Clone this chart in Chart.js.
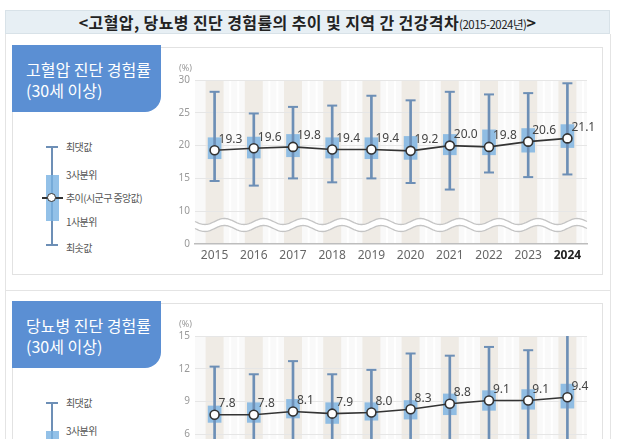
<!DOCTYPE html>
<html>
<head>
<meta charset="utf-8">
<script src="https://cdn.jsdelivr.net/npm/chart.js@4.4.0/dist/chart.umd.min.js"></script>
<style>
  body { margin: 0; width: 628px; height: 439px; overflow: hidden; background: #fff;
         font-family: "Noto Sans CJK KR", "Noto Sans", sans-serif; position: relative; }
  .abs { position: absolute; }
  #title { left: 5px; top: 10px; width: 605px; height: 24px; background: #e7eff4; border: 1px solid #d8e2e8;
           box-sizing: border-box; text-align: center; font-size: 16px; font-weight: bold; color: #222; line-height: 22px;
           letter-spacing: 0.4px; }
  #title small { font-size: 11.5px; font-weight: normal; letter-spacing: -0.5px; }
  .frame { border: 1.5px solid #e2e2e2; box-sizing: border-box; }
  .tag { background: #5b8fd3; color: #fff; font-size: 16px; line-height: 21px; padding: 14px 0 0 14px;
         box-sizing: border-box; border-bottom-right-radius: 16px; }
  .lg { font-size: 10px; color: #555; line-height: 12px; letter-spacing: -0.6px; }
</style>
</head>
<body>
<div id="title" class="abs">&lt;고혈압, 당뇨병 진단 경험률의 추이 및 지역 간 건강격차<small>(2015-2024년)</small>&gt;</div>
<div class="abs" style="left:5px;top:34px;width:1px;height:420px;background:#e4e4e4"></div>
<div class="abs" style="left:610px;top:34px;width:1px;height:420px;background:#e4e4e4"></div>
<div class="abs" style="left:5px;top:290px;width:605px;height:1px;background:#e4e4e4"></div>
<div id="panels"></div>

<script>
// categories
const years = ['2015', '2016', '2017', '2018', '2019', '2020', '2021', '2022', '2023', '2024'];

// 고혈압 (hypertension)
const bpMax = [28.2, 24.9, 25.9, 26.1, 27.6, 26.9, 28.2, 27.8, 28.0, 29.5];
const bpQ3 = [21.2, 21.3, 21.7, 21.2, 21.2, 21.4, 21.7, 22.4, 22.6, 23.2];
const bpMedian = [19.3, 19.6, 19.8, 19.4, 19.4, 19.2, 20.0, 19.8, 20.6, 21.1];
const bpQ1 = [18.0, 18.1, 18.3, 18.1, 18.0, 17.9, 18.6, 18.6, 19.0, 19.7];
const bpMin = [14.6, 13.9, 15.0, 14.4, 15.0, 14.3, 13.3, 15.9, 15.2, 15.6];

// 당뇨병 (diabetes)
const dmMax = [12.2, 11.5, 12.7, 11.5, 11.9, 13.4, 13.2, 14.0, 13.7, 15.1];
const dmQ3 = [8.6, 8.9, 9.2, 8.9, 8.9, 9.1, 9.7, 10.0, 10.1, 10.6];
const dmMedian = [7.8, 7.8, 8.1, 7.9, 8.0, 8.3, 8.8, 9.1, 9.1, 9.4];
const dmQ1 = [7.1, 7.1, 7.5, 7.0, 7.3, 7.4, 7.8, 8.2, 8.3, 8.4];
const dmMin = [4.9, 4.6, 5.0, 4.8, 5.1, 4.7, 4.4, 5.2, 5.0, 4.9];

// y axis: [bottom, top, step]; bottom tick is shown as 0 (broken axis)
const bpAxis = [5, 30, 5];
const dmAxis = [0, 15, 3];

const boxColor = 'rgba(120,178,226,0.8)';
const whiskerColor = '#6d8fb6';
const lineColor = '#333';

// striped background + axis break
const stripes = {
    id: 'stripes',
    beforeDraw(chart) {
        const a = chart.chartArea;
        const c = chart.ctx;
        const x = chart.scales.x;
        c.save();
        c.fillStyle = '#f9f9f9';
        c.fillRect(a.left, a.top, a.right - a.left, a.bottom - a.top);
        const step = x.getPixelForValue(1) - x.getPixelForValue(0);
        for (let i = 0; i < chart.data.labels.length; i++) {
            const px = x.getPixelForValue(i);
            c.fillStyle = '#efebe5';
            c.fillRect(px - 9, a.top, 18, a.bottom - a.top);
            c.fillStyle = '#ffffff';
            c.fillRect(px + step / 2 - 5, a.top, 2, a.bottom - a.top);
            c.fillRect(px + step / 2 + 3, a.top, 2, a.bottom - a.top);
        }
        c.restore();
    },
    beforeDatasetsDraw(chart) {
        const a = chart.chartArea;
        const c = chart.ctx;
        const x = chart.scales.x;
        const period = x.getPixelForValue(1) - x.getPixelForValue(0);
        const mid = a.bottom - 19;
        const wave = (off) => {
            const pts = [];
            for (let px = a.left; px <= a.right; px += 1) {
                pts.push([px, mid + off + 3 * Math.sin((px - a.left) / period * 2 * Math.PI)]);
            }
            return pts;
        };
        const w1 = wave(-3.5), w2 = wave(3.5);
        c.save();
        c.beginPath();
        w1.forEach((p, i) => i ? c.lineTo(p[0], p[1]) : c.moveTo(p[0], p[1]));
        for (let i = w2.length - 1; i >= 0; i--) c.lineTo(w2[i][0], w2[i][1]);
        c.closePath();
        c.fillStyle = '#fff';
        c.fill();
        c.strokeStyle = '#c4c4c4';
        c.lineWidth = 1.3;
        [w1, w2].forEach(w => {
            c.beginPath();
            w.forEach((p, i) => i ? c.lineTo(p[0], p[1]) : c.moveTo(p[0], p[1]));
            c.stroke();
        });
        c.restore();
    },
    afterDatasetsDraw(chart) {
        const c = chart.ctx;
        const meta = chart.getDatasetMeta(0);
        const vals = chart.data.datasets[0].data;
        c.save();
        c.font = '12px "Noto Sans", "Noto Sans CJK KR", sans-serif';
        c.fillStyle = '#444';
        c.textAlign = 'left';
        c.textBaseline = 'middle';
        meta.data.forEach((pt, i) => {
            c.fillText(vals[i].toFixed(1), pt.x + 4, pt.y - 11);
        });
        c.font = '9px "Noto Sans", sans-serif';
        c.fillStyle = '#999';
        c.textAlign = 'right';
        c.fillText('(%)', chart.chartArea.left - 3, chart.chartArea.top - 12);
        c.restore();
    }
};

function makePanel(top, name, med, q1, q3, mn, mx, axis) {
    const host = document.getElementById('panels');
    host.insertAdjacentHTML('beforeend', `
      <div class="abs frame" style="left:12px;top:${top + 2}px;width:591px;height:228px"></div>
      <div class="abs tag" style="left:12px;top:${top}px;width:149px;height:67px">${name}<br>(30세 이상)</div>
      <div class="abs" style="left:51px;top:${top + 102}px;width:2px;height:98px;background:${whiskerColor}"></div>
      <div class="abs" style="left:46px;top:${top + 101}px;width:12px;height:2px;background:${whiskerColor}"></div>
      <div class="abs" style="left:46px;top:${top + 199}px;width:12px;height:2px;background:${whiskerColor}"></div>
      <div class="abs" style="left:46px;top:${top + 130}px;width:13px;height:46px;background:${boxColor}"></div>
      <div class="abs" style="left:42px;top:${top + 152}px;width:21px;height:2px;background:${lineColor}"></div>
      <div class="abs" style="left:47px;top:${top + 148}px;width:7px;height:7px;border:1.5px solid ${lineColor};border-radius:50%;background:#fff"></div>
      <div class="abs lg" style="left:66px;top:${top + 96}px">최댓값</div>
      <div class="abs lg" style="left:66px;top:${top + 124}px">3사분위</div>
      <div class="abs lg" style="left:66px;top:${top + 147}px">추이(시군구 중앙값)</div>
      <div class="abs lg" style="left:66px;top:${top + 171}px">1사분위</div>
      <div class="abs lg" style="left:66px;top:${top + 197}px">최솟값</div>
      <canvas class="abs" id="c${top}" width="440" height="215" style="left:160px;top:${top + 11}px"></canvas>
    `);

    const box = q1.map((v, i) => [v, q3[i]]);
    const whisk = mn.map((v, i) => [v, mx[i]]);

    new Chart(document.getElementById('c' + top), {
        type: 'bar',
        data: {
            labels: years,
            datasets: [
                {
                    type: 'line', data: med, order: 0,
                    borderColor: lineColor, borderWidth: 1.6,
                    pointBackgroundColor: '#fff', pointBorderColor: lineColor,
                    pointBorderWidth: 1.6, pointRadius: 4.5
                },
                { data: whisk, order: 1, grouped: false, barThickness: 2, backgroundColor: whiskerColor },
                {
                    type: 'line', data: mx, order: 1, showLine: false,
                    pointStyle: 'line', pointRadius: 5, pointBorderWidth: 2, pointBorderColor: whiskerColor
                },
                {
                    type: 'line', data: mn, order: 1, showLine: false,
                    pointStyle: 'line', pointRadius: 5, pointBorderWidth: 2, pointBorderColor: whiskerColor
                },
                { data: box, order: 2, grouped: false, barThickness: 13, backgroundColor: boxColor }
            ]
        },
        options: {
            responsive: false,
            animation: false,
            layout: { padding: { top: 24, right: 13, left: 0, bottom: 0 } },
            plugins: { legend: { display: false }, tooltip: { enabled: false } },
            scales: {
                x: {
                    grid: { display: false, drawTicks: false },
                    border: { color: '#bdbdbd', width: 1.5 },
                    ticks: {
                        padding: 4,
                        color: (c) => c.index === 9 ? '#222' : '#666',
                        font: (c) => ({ size: 12, weight: c.index === 9 ? 'bold' : 'normal', family: '"Noto Sans", sans-serif' })
                    },
                    afterFit: (s) => { s.height = 27; }
                },
                y: {
                    min: axis[0], max: axis[1],
                    border: { display: false },
                    grid: {
                        color: (c) => c.index === 0 ? 'rgba(0,0,0,0)' : '#e6e6e6',
                        drawTicks: false
                    },
                    ticks: {
                        stepSize: axis[2], padding: 5, color: '#999',
                        font: { size: 10, family: '"Noto Sans", sans-serif' },
                        callback: (v) => v === axis[0] ? '0' : v
                    },
                    afterFit: (s) => { s.width = 35; }
                }
            }
        },
        plugins: [stripes]
    });
}

makePanel(45, '고혈압 진단 경험률', bpMedian, bpQ1, bpQ3, bpMin, bpMax, bpAxis);
makePanel(301, '당뇨병 진단 경험률', dmMedian, dmQ1, dmQ3, dmMin, dmMax, dmAxis);
</script>
</body>
</html>
